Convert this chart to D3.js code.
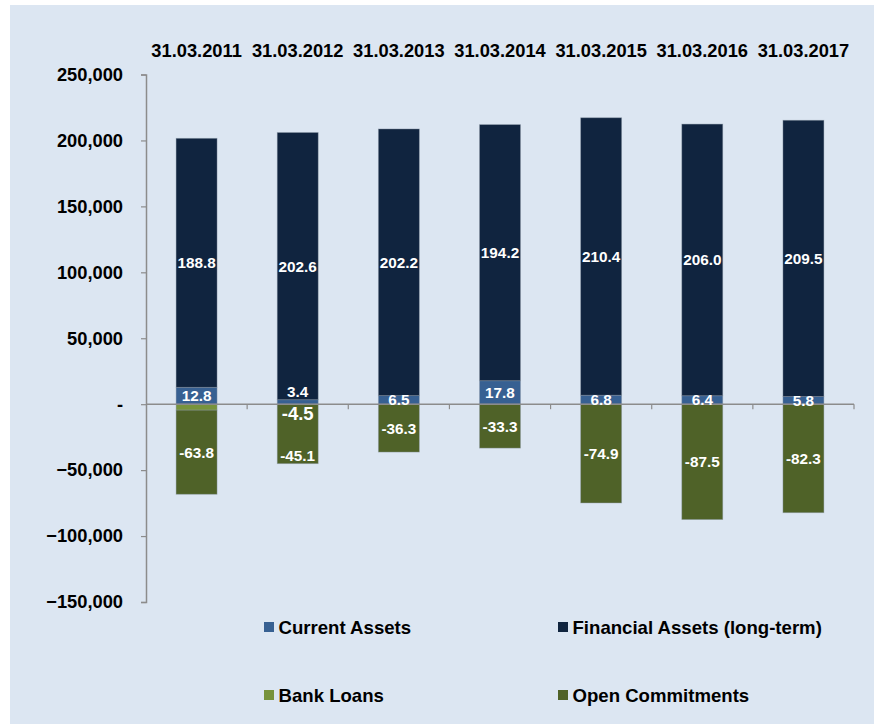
<!DOCTYPE html>
<html>
<head>
<meta charset="utf-8">
<script src="https://cdn.jsdelivr.net/npm/d3@7"></script>
<style>
  html, body { margin: 0; padding: 0; background: #ffffff; }
  svg { display: block; font-family: "Liberation Sans", Arial, sans-serif; }
</style>
</head>
<body>
<svg id="chart" width="874" height="726"></svg>
<script>
// ---- data (values in thousands) ----
const categories = ["31.03.2011", "31.03.2012", "31.03.2013", "31.03.2014", "31.03.2015", "31.03.2016", "31.03.2017"];
const currentAssets = [12800, 3400, 6500, 17800, 6800, 6400, 5800];
const financialAssets = [188800, 202600, 202200, 194200, 210400, 206000, 209500];
const bankLoans = [-4500, 0, 0, 0, 0, 0, 0];
const openCommitments = [-63800, -45100, -36300, -33300, -74900, -87500, -82300];
const yTicks = [250000, 200000, 150000, 100000, 50000, 0, -50000, -100000, -150000];
const seriesNames = ["Current Assets", "Financial Assets (long-term)", "Bank Loans", "Open Commitments"];
const seriesColors = ["#376092", "#10243f", "#77933c", "#4f6228"];
// bank-loan label shown in the original next to the 2012 column
const bankLoanLabelCategory = "31.03.2012";

const svg = d3.select("#chart");

// background
svg.append("rect").attr("x", 10).attr("y", 5).attr("width", 864).attr("height", 719).attr("fill", "#dce6f2");

const x = d3.scaleBand().domain(categories).range([146, 854]).padding(0);
const y = d3.scaleLinear().domain([-150000, 250000]).range([602, 74.5]);
const barW = x.bandwidth() * 0.405;
const bx = c => x(c) + (x.bandwidth() - barW) / 2;

// stacked bars
const stacks = categories.map((c, i) => {
  const segs = [];
  let pos = 0;
  segs.push({ c, s: 0, y0: pos, y1: pos + currentAssets[i], v: currentAssets[i] }); pos += currentAssets[i];
  segs.push({ c, s: 1, y0: pos, y1: pos + financialAssets[i], v: financialAssets[i] }); pos += financialAssets[i];
  let neg = 0;
  segs.push({ c, s: 2, y0: neg, y1: neg + bankLoans[i], v: bankLoans[i] }); neg += bankLoans[i];
  segs.push({ c, s: 3, y0: neg, y1: neg + openCommitments[i], v: openCommitments[i] });
  return segs;
}).flat().filter(d => d.v !== 0);

svg.append("g").selectAll("rect").data(stacks).join("rect")
  .attr("x", d => bx(d.c))
  .attr("width", barW)
  .attr("y", d => y(Math.max(d.y0, d.y1)))
  .attr("height", d => Math.abs(y(d.y0) - y(d.y1)))
  .attr("fill", d => seriesColors[d.s])
  .attr("stroke", "#8d9aa8")
  .attr("stroke-opacity", 0.5)
  .attr("stroke-width", 0.8);

// y axis
const yAxis = svg.append("g").attr("transform", "translate(146,0)")
  .call(d3.axisLeft(y).tickValues(yTicks).tickSize(5).tickPadding(18)
    .tickFormat(v => v === 0 ? "-" : d3.format(",")(v)));
yAxis.select(".domain").attr("stroke", "#8c8c8c").attr("stroke-width", 1.5);
yAxis.selectAll(".tick line").attr("stroke", "#8c8c8c").attr("stroke-width", 1.2);
yAxis.selectAll(".tick text").attr("font-size", 18.3).attr("font-weight", "bold").attr("fill", "#000")
  .attr("font-family", "Liberation Sans, Arial, sans-serif");

// x axis at zero
const xAxisG = svg.append("g").attr("transform", `translate(0,${y(0)})`);
xAxisG.append("line").attr("x1", 146).attr("x2", 854).attr("stroke", "#8c8c8c").attr("stroke-width", 1.5);
const boundaries = categories.map(c => x(c) + x.bandwidth());
xAxisG.selectAll("line.tk").data(boundaries).join("line").attr("class", "tk")
  .attr("x1", d => d).attr("x2", d => d).attr("y1", 0).attr("y2", 5)
  .attr("stroke", "#8c8c8c").attr("stroke-width", 1.2);

// category labels at top
svg.append("g").selectAll("text").data(categories).join("text")
  .attr("x", c => x(c) + x.bandwidth() / 2)
  .attr("y", 57)
  .attr("text-anchor", "middle")
  .attr("font-size", 18.3).attr("font-weight", "bold").attr("fill", "#000")
  .text(c => c);

// data labels
const fmt = v => (v / 1000).toFixed(1);
const labels = stacks.filter(d => d.s !== 2).map(d => {
  const top = y(Math.max(d.y0, d.y1)), bot = y(Math.min(d.y0, d.y1));
  let cy = (top + bot) / 2;
  // avoid the bank-loan annotation in its column
  if (d.c === bankLoanLabelCategory && d.s === 0) cy = top - 8;
  if (d.c === bankLoanLabelCategory && d.s === 3) cy = bot - 8;
  return { x: x(d.c) + x.bandwidth() / 2, y: cy, t: fmt(d.v), size: 15.3 };
});
// bank loan label
const blIdx = bankLoans.findIndex(v => v !== 0);
labels.push({
  x: x(bankLoanLabelCategory) + x.bandwidth() / 2,
  y: y(bankLoans[blIdx]) + 3,
  t: fmt(bankLoans[blIdx]), size: 18.5
});
svg.append("g").selectAll("text").data(labels).join("text")
  .attr("x", d => d.x).attr("y", d => d.y).attr("dy", "0.36em")
  .attr("text-anchor", "middle")
  .attr("font-size", d => d.size).attr("font-weight", "bold").attr("fill", "#fff")
  .text(d => d.t);

// legend
const legendPos = [[264, 627], [558, 627], [264, 695], [558, 695]];
const lg = svg.append("g").selectAll("g").data(seriesNames).join("g")
  .attr("transform", (d, i) => `translate(${legendPos[i][0]},${legendPos[i][1]})`);
lg.append("rect").attr("x", 0).attr("y", -5).attr("width", 10).attr("height", 10)
  .attr("fill", (d, i) => seriesColors[i]);
lg.append("text").attr("x", 14.5).attr("y", 0).attr("dy", "0.36em")
  .attr("font-size", 18.6).attr("font-weight", "bold").attr("fill", "#000")
  .text(d => d);
</script>
</body>
</html>
